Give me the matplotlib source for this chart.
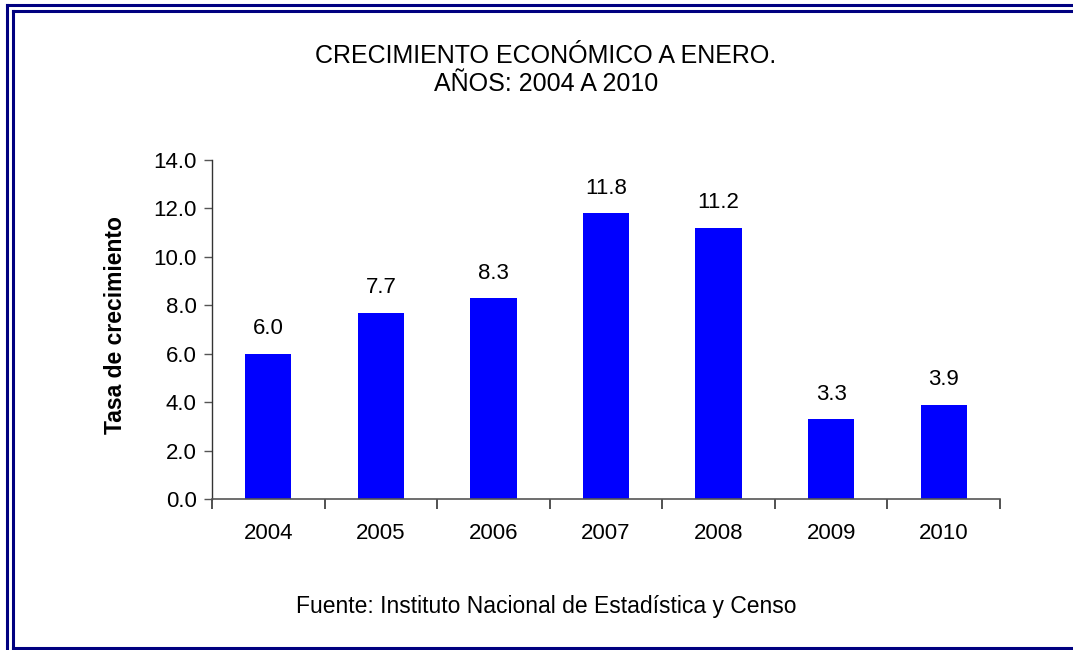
import matplotlib
matplotlib.use("Agg")
import matplotlib.pyplot as plt
from matplotlib.lines import Line2D

years = ["2004", "2005", "2006", "2007", "2008", "2009", "2010"]
values = [6.0, 7.7, 8.3, 11.8, 11.2, 3.3, 3.9]
value_labels = ["6.0", "7.7", "8.3", "11.8", "11.2", "3.3", "3.9"]
yticks = [0, 2, 4, 6, 8, 10, 12, 14]

plt.rcParams['font.family'] = ['Liberation Sans', 'DejaVu Sans']

W, H = 1073, 650
fig = plt.figure(figsize=(W / 100, H / 100), dpi=100)

def fx(px):
    return px / W

def fy(py):
    return 1 - py / H

ax = fig.add_axes([fx(212), fy(499), fx(1000) - fx(212), fy(160) - fy(499)])
x = list(range(len(years)))
ax.bar(x, values, width=0.41, color="#0000FF", zorder=2)
for xi, v, lab in zip(x, values, value_labels):
    ax.annotate(lab, (xi, v), xytext=(0, 18), textcoords="offset points",
                ha="center", va="center", fontsize=16, color="black")

ax.set_xlim(-0.5, len(years) - 0.5)
ax.set_ylim(0, 14)
ax.set_yticks(yticks)
ax.set_yticklabels([f"{t:.1f}" for t in yticks], fontsize=16)
ax.set_xticks(x)
ax.set_xticklabels(years, fontsize=16)
ax.tick_params(axis='x', length=0, pad=17)
ax.tick_params(axis='y', direction='out', length=6, width=1, color="#555555", pad=5)
# minor ticks at category boundaries
ax.set_xticks([i - 0.5 for i in range(len(years) + 1)], minor=True)
ax.tick_params(axis='x', which='minor', direction='out', length=7, width=1.2, color="#333333")
for s in ["top", "right"]:
    ax.spines[s].set_visible(False)
ax.spines["left"].set_color("#333333")
ax.spines["bottom"].set_color("#555555")
ax.spines["left"].set_linewidth(1.0)
ax.spines["bottom"].set_linewidth(1.2)

fig.text(fx(115), fy(325), "Tasa de crecimiento", rotation=90, ha="center", va="center",
         fontsize=16.5, fontweight="bold")

fig.text(fx(546), fy(56), "CRECIMIENTO ECONÓMICO A ENERO.", ha="center", va="center", fontsize=18)
fig.text(fx(546), fy(84), "AÑOS: 2004 A 2010", ha="center", va="center", fontsize=18)
fig.text(fx(546), fy(606), "Fuente: Instituto Nacional de Estadística y Censo",
         ha="center", va="center", fontsize=16.5)

navy = "#000080"
# outer border
fig.add_artist(Line2D([fx(7), fx(7)], [fy(5), fy(700)], color=navy, lw=2.2, transform=fig.transFigure))
fig.add_artist(Line2D([fx(7), fx(1100)], [fy(5.3), fy(5.3)], color=navy, lw=2.2, transform=fig.transFigure))
# inner border
fig.add_artist(Line2D([fx(12.7), fx(12.7)], [fy(10.5), fy(648)], color=navy, lw=2.2, transform=fig.transFigure))
fig.add_artist(Line2D([fx(12.7), fx(1100)], [fy(10.7), fy(10.7)], color=navy, lw=2.2, transform=fig.transFigure))
fig.add_artist(Line2D([fx(12.7), fx(1100)], [fy(648), fy(648)], color=navy, lw=2.2, transform=fig.transFigure))

fig.savefig("out.png", dpi=100)
